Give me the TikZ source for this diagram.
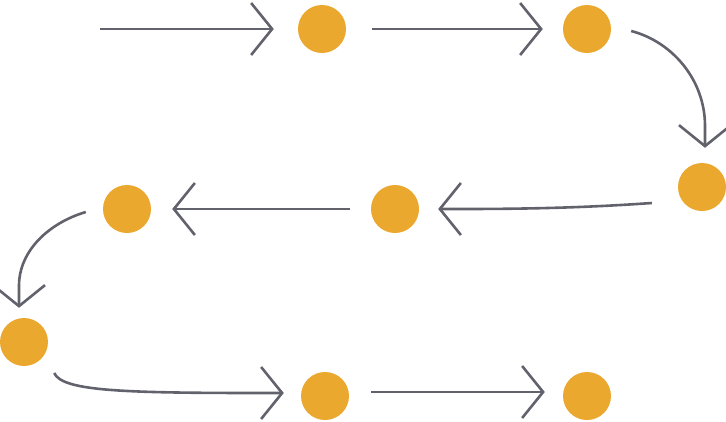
\documentclass[tikz,border=0pt]{standalone}
\usetikzlibrary{arrows.meta}
\definecolor{dotcol}{HTML}{EBA82E}
\definecolor{linecol}{HTML}{62626D}
\begin{document}
\begin{tikzpicture}[x=1pt,y=1pt,
    dot/.style={circle,fill=dotcol,minimum size=48pt,inner sep=0pt},
    flow/.style={draw=linecol,line width=2.6pt,-{Straight Barb[length=21pt,width=52pt,line width=2.6pt]}}]
      \useasboundingbox (0,0) rectangle (726,-421);
      % dots, row by row
      \node[dot] (c1) at (322,-29) {};
      \node[dot] (c2) at (587,-29) {};
      \node[dot] (c3) at (702,-187) {};
      \node[dot] (c4) at (395,-209) {};
      \node[dot] (c5) at (127,-209) {};
      \node[dot] (c6) at (24,-342) {};
      \node[dot] (c7) at (325,-396) {};
      \node[dot] (c8) at (587,-396) {};
      \coordinate (start) at (100,-29);
      % arrows (curves end in a straight bit so the tips sit straight)
      \draw[flow,shorten >=24pt] (start) -- (c1);
      \draw[flow,shorten <=26pt,shorten >=20pt] (c1) -- (c2);
      \draw[flow] ([shift={(20pt,-2pt)}]c2.east) .. controls +(42,-11) and +(0,45) .. ([shift={(3pt,37pt)}]c3.north) -- ([shift={(3pt,15pt)}]c3.north);
      \draw[flow] ([shift={(-26pt,-16pt)}]c3.west) .. controls +(-70,-5) and +(60,0) .. ([xshift=41pt]c4.east) -- ([xshift=19pt]c4.east);
      \draw[flow,shorten <=21pt,shorten >=21pt] (c4) -- (c5);
      \draw[flow] ([shift={(-17pt,-3pt)}]c5.west) .. controls +(-37,-11) and +(0,35) .. ([shift={(-5pt,32pt)}]c6.north) -- ([shift={(-5pt,10pt)}]c6.north);
      \draw[flow] ([shift={(6pt,-31pt)}]c6.east) .. controls +(8,-18) and +(-140,0) .. ([shift={(-39pt,3pt)}]c7.west) -- ([shift={(-17pt,3pt)}]c7.west);
      \draw[flow,shorten <=22pt,shorten >=18pt] ([yshift=4pt]c7.east) -- ([yshift=4pt]c8.west);
    \end{tikzpicture}
\end{document}
